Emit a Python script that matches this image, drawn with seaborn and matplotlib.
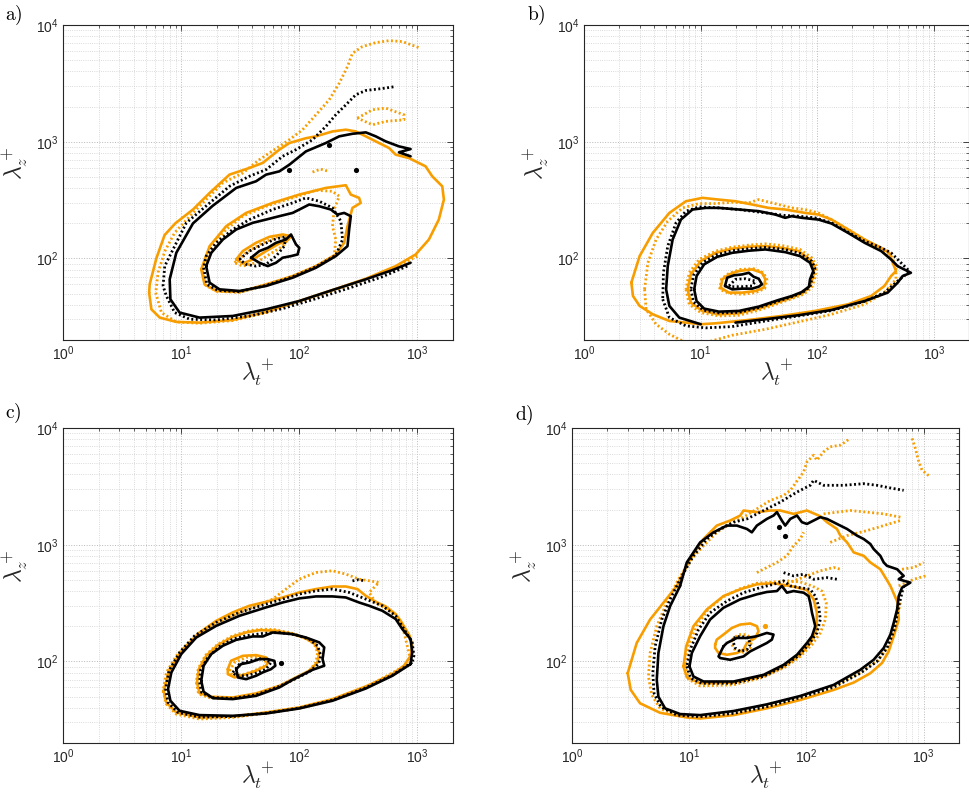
import numpy as np
import matplotlib
matplotlib.use("Agg")
import matplotlib.pyplot as plt
import seaborn as sns

sns.set_style("white")
plt.rcParams["font.family"] = ["Liberation Sans", "DejaVu Sans"]
plt.rcParams["mathtext.fontset"] = "cm"

ORANGE = "#F89D00"
BLACK = "#000000"

# All contour vertices are log10(lambda_t^+), log10(lambda_z^+)
# ks = black solid, kd = black dotted, os = orange solid, od = orange dotted; 1 outer, 2 middle, 3 inner level

# ---------------- panel a ----------------
a_os1_x = [0.729, 0.748, 0.819, 0.959, 1.156, 1.437, 1.719, 2.000, 2.281, 2.563, 2.816, 2.985, 3.097, 3.181, 3.224, 3.210, 3.125, 3.069, 2.928, 2.816, 2.760, 2.647, 2.563, 2.478, 2.394, 2.281, 2.141, 2.056, 1.916, 1.831, 1.690, 1.578, 1.409, 1.241, 1.100, 0.950, 0.860, 0.790, 0.734, 0.729]
a_os1_y = [1.707, 1.564, 1.493, 1.456, 1.450, 1.473, 1.541, 1.635, 1.729, 1.826, 1.934, 2.034, 2.162, 2.333, 2.504, 2.618, 2.704, 2.789, 2.860, 2.889, 2.946, 3.003, 3.046, 3.088, 3.103, 3.088, 3.046, 3.030, 2.989, 2.932, 2.818, 2.775, 2.718, 2.561, 2.419, 2.300, 2.200, 2.000, 1.780, 1.707]
a_ks1_x = [2.942, 2.844, 2.942, 2.844, 2.731, 2.647, 2.563, 2.450, 2.338, 2.225, 2.056, 1.916, 1.831, 1.719, 1.634, 1.466, 1.266, 1.100, 0.959, 0.903, 0.909, 0.987, 1.156, 1.437, 1.719, 2.000, 2.281, 2.563, 2.788, 2.942]
a_ks1_y = [2.875, 2.909, 2.937, 2.960, 3.003, 3.046, 3.080, 3.068, 3.046, 2.989, 2.917, 2.803, 2.746, 2.718, 2.661, 2.604, 2.450, 2.300, 2.048, 1.821, 1.650, 1.536, 1.493, 1.507, 1.564, 1.635, 1.729, 1.821, 1.900, 1.963]
a_kd1_x = [2.914, 2.703, 2.422, 2.141, 1.859, 1.578, 1.297, 1.072, 0.945, 0.875, 0.847, 0.861, 0.917, 1.044, 1.212, 1.409, 1.578, 1.719, 1.859, 1.972, 2.112, 2.225, 2.309, 2.394, 2.478, 2.563, 2.703, 2.816]
a_kd1_y = [1.934, 1.843, 1.746, 1.655, 1.570, 1.507, 1.473, 1.479, 1.536, 1.678, 1.764, 1.934, 2.048, 2.305, 2.450, 2.618, 2.704, 2.761, 2.875, 2.932, 3.017, 3.131, 3.231, 3.316, 3.402, 3.439, 3.456, 3.473]
a_od1_x = [2.999, 2.816, 2.563, 2.281, 2.000, 1.719, 1.437, 1.156, 0.959, 0.833, 0.785, 0.805, 0.861, 0.945, 1.072, 1.156, 1.353, 1.522, 1.662, 1.831, 1.916, 2.028, 2.141, 2.253, 2.338, 2.408, 2.450, 2.534, 2.647, 2.760, 2.872, 3.027]
a_od1_y = [2.020, 1.929, 1.821, 1.724, 1.630, 1.536, 1.467, 1.444, 1.456, 1.536, 1.707, 1.880, 2.060, 2.220, 2.360, 2.447, 2.647, 2.732, 2.846, 2.960, 3.017, 3.103, 3.231, 3.359, 3.501, 3.644, 3.758, 3.815, 3.849, 3.866, 3.858, 3.801]
a_od1b_x = [2.492, 2.619, 2.731, 2.886, 2.886, 2.731, 2.619, 2.492]
a_od1b_y = [3.202, 3.274, 3.288, 3.231, 3.188, 3.174, 3.145, 3.202]
a_os2_x = [1.170, 1.198, 1.297, 1.494, 1.719, 1.944, 2.141, 2.309, 2.380, 2.408, 2.450, 2.520, 2.506, 2.436, 2.394, 2.225, 2.000, 1.775, 1.550, 1.381, 1.241, 1.170]
a_os2_y = [1.906, 1.778, 1.721, 1.712, 1.778, 1.849, 1.934, 2.034, 2.134, 2.276, 2.433, 2.476, 2.519, 2.547, 2.627, 2.604, 2.547, 2.476, 2.390, 2.276, 2.105, 1.906]
a_ks2_x = [1.212, 1.241, 1.325, 1.494, 1.719, 1.944, 2.141, 2.309, 2.408, 2.422, 2.436, 2.380, 2.323, 2.267, 2.169, 2.084, 2.028, 1.944, 1.831, 1.719, 1.606, 1.466, 1.353, 1.255, 1.212]
a_ks2_y = [1.934, 1.792, 1.735, 1.721, 1.764, 1.835, 1.920, 2.020, 2.105, 2.248, 2.362, 2.390, 2.376, 2.419, 2.447, 2.462, 2.433, 2.390, 2.362, 2.333, 2.305, 2.248, 2.162, 2.048, 1.934]
a_kd2_x = [1.190, 1.218, 1.311, 1.494, 1.719, 1.944, 2.141, 2.309, 2.366, 2.352, 2.281, 2.169, 2.056, 1.944, 1.775, 1.578, 1.437, 1.297, 1.212, 1.190]
a_kd2_y = [1.920, 1.778, 1.726, 1.715, 1.769, 1.843, 1.929, 2.026, 2.162, 2.319, 2.433, 2.490, 2.519, 2.476, 2.419, 2.333, 2.248, 2.134, 2.020, 1.920]
a_od2_x = [1.181, 1.209, 1.302, 1.494, 1.719, 1.944, 2.141, 2.295, 2.309, 2.281, 2.295, 2.338, 2.281, 2.141, 1.944, 1.719, 1.522, 1.381, 1.255, 1.181]
a_od2_y = [1.892, 1.769, 1.718, 1.709, 1.772, 1.846, 1.932, 2.020, 2.162, 2.276, 2.419, 2.533, 2.575, 2.584, 2.519, 2.447, 2.362, 2.248, 2.091, 1.892]
a_os3_x = [1.466, 1.522, 1.634, 1.747, 1.859, 1.930, 1.902, 1.831, 1.719, 1.606, 1.522, 1.466]
a_os3_y = [1.991, 2.063, 2.134, 2.185, 2.205, 2.191, 2.157, 2.128, 2.063, 1.991, 1.957, 1.991]
a_ks3_x = [1.592, 1.662, 1.733, 1.803, 1.887, 1.930, 1.972, 2.000, 1.986, 1.930, 1.859, 1.803, 1.733, 1.662, 1.592]
a_ks3_y = [2.006, 2.063, 2.091, 2.134, 2.162, 2.205, 2.120, 2.091, 2.034, 2.020, 2.006, 1.963, 1.934, 1.963, 2.006]
a_kd3_x = [1.494, 1.578, 1.691, 1.803, 1.887, 1.873, 1.803, 1.719, 1.634, 1.550, 1.494]
a_kd3_y = [1.991, 2.063, 2.120, 2.168, 2.185, 2.105, 2.020, 1.949, 1.934, 1.949, 1.991]
a_od3_x = [1.452, 1.550, 1.691, 1.831, 1.916, 1.859, 1.747, 1.634, 1.522, 1.452]
a_od3_y = [1.963, 2.048, 2.134, 2.191, 2.177, 2.105, 2.034, 1.963, 1.934, 1.963]
a_od_bit_x = [2.112, 2.180, 2.253]
a_od_bit_y = [2.740, 2.765, 2.745]
a_dots_x = [1.916, 2.253, 2.478]
a_dots_y = [2.761, 2.974, 2.761]

# ---------------- panel b ----------------
b_os1_x = [0.406, 0.420, 0.477, 0.590, 0.732, 0.874, 1.001, 1.129, 1.413, 1.696, 1.980, 2.264, 2.462, 2.576, 2.633, 2.675, 2.647, 2.618, 2.548, 2.406, 2.264, 2.122, 2.009, 1.895, 1.725, 1.583, 1.441, 1.299, 1.157, 1.016, 0.874, 0.732, 0.590, 0.477, 0.406]
b_os1_y = [1.792, 1.678, 1.593, 1.521, 1.464, 1.450, 1.436, 1.444, 1.473, 1.507, 1.550, 1.607, 1.678, 1.764, 1.849, 1.892, 1.963, 2.048, 2.091, 2.162, 2.248, 2.333, 2.376, 2.390, 2.419, 2.433, 2.462, 2.490, 2.504, 2.519, 2.490, 2.390, 2.219, 2.020, 1.792]
b_ks1_x = [1.299, 1.555, 1.838, 2.122, 2.406, 2.604, 2.689, 2.732, 2.803, 2.689, 2.633, 2.548, 2.406, 2.264, 2.122, 2.009, 1.867, 1.782, 1.725, 1.640, 1.498, 1.328, 1.157, 1.044, 0.930, 0.831, 0.760, 0.718, 0.704, 0.732, 0.817, 1.001]
b_ks1_y = [1.450, 1.479, 1.513, 1.558, 1.635, 1.707, 1.792, 1.849, 1.877, 1.934, 1.991, 2.063, 2.134, 2.219, 2.299, 2.333, 2.348, 2.362, 2.348, 2.376, 2.405, 2.419, 2.433, 2.433, 2.419, 2.333, 2.162, 1.934, 1.735, 1.593, 1.493, 1.436]
b_kd1_x = [0.675, 0.732, 0.874, 1.044, 1.271, 1.555, 1.838, 2.122, 2.406, 2.576, 2.689, 2.760, 2.789, 2.718, 2.633, 2.548, 2.406, 2.264, 2.122, 1.980, 1.838, 1.725, 1.555, 1.328, 1.157, 0.987, 0.874, 0.789, 0.718, 0.681, 0.675]
b_kd1_y = [1.650, 1.493, 1.422, 1.405, 1.416, 1.464, 1.507, 1.553, 1.632, 1.707, 1.806, 1.863, 1.892, 1.963, 2.048, 2.091, 2.148, 2.225, 2.305, 2.348, 2.362, 2.368, 2.390, 2.419, 2.433, 2.442, 2.405, 2.305, 2.105, 1.877, 1.650]
b_od1_x = [0.519, 0.533, 0.618, 0.732, 0.874, 1.044, 1.271, 1.555, 1.838, 2.122, 2.406, 2.576, 2.675, 2.675, 2.633, 2.548, 2.406, 2.264, 2.122, 2.009, 1.895, 1.782, 1.668, 1.555, 1.498, 1.413, 1.271, 1.129, 0.987, 0.845, 0.718, 0.618, 0.548, 0.519]
b_od1_y = [1.735, 1.564, 1.436, 1.350, 1.279, 1.279, 1.342, 1.393, 1.456, 1.521, 1.607, 1.707, 1.821, 1.934, 2.020, 2.077, 2.162, 2.248, 2.333, 2.390, 2.419, 2.433, 2.462, 2.490, 2.504, 2.476, 2.481, 2.470, 2.470, 2.433, 2.319, 2.162, 1.963, 1.735]
b_os2_x = [0.888, 0.916, 1.016, 1.157, 1.328, 1.498, 1.668, 1.782, 1.881, 1.938, 1.966, 1.974, 1.938, 1.838, 1.696, 1.555, 1.413, 1.271, 1.129, 1.001, 0.916, 0.888]
b_os2_y = [1.735, 1.621, 1.550, 1.521, 1.530, 1.570, 1.627, 1.664, 1.707, 1.764, 1.849, 1.934, 1.991, 2.063, 2.091, 2.105, 2.100, 2.083, 2.048, 1.977, 1.863, 1.735]
b_ks2_x = [0.945, 0.965, 1.030, 1.157, 1.328, 1.498, 1.668, 1.782, 1.867, 1.929, 1.938, 1.966, 1.938, 1.852, 1.725, 1.555, 1.413, 1.271, 1.143, 1.030, 0.965, 0.945]
b_ks2_y = [1.735, 1.635, 1.570, 1.544, 1.550, 1.587, 1.644, 1.678, 1.712, 1.758, 1.821, 1.892, 1.963, 2.020, 2.054, 2.077, 2.066, 2.048, 2.014, 1.949, 1.849, 1.735]
b_kd2_x = [0.916, 0.939, 1.021, 1.157, 1.328, 1.498, 1.668, 1.782, 1.872, 1.938, 1.957, 1.980, 1.952, 1.852, 1.725, 1.555, 1.413, 1.271, 1.135, 1.016, 0.939, 0.916]
b_kd2_y = [1.735, 1.627, 1.558, 1.533, 1.538, 1.578, 1.635, 1.672, 1.707, 1.758, 1.835, 1.920, 1.977, 2.043, 2.077, 2.094, 2.083, 2.066, 2.031, 1.963, 1.855, 1.735]
b_od2_x = [0.874, 0.902, 1.001, 1.157, 1.328, 1.498, 1.668, 1.782, 1.881, 1.952, 1.980, 1.994, 1.952, 1.852, 1.696, 1.555, 1.413, 1.271, 1.129, 0.987, 0.902, 0.874]
b_od2_y = [1.735, 1.607, 1.536, 1.507, 1.513, 1.556, 1.615, 1.655, 1.692, 1.749, 1.835, 1.934, 2.006, 2.077, 2.111, 2.125, 2.114, 2.097, 2.063, 1.991, 1.877, 1.735]
b_os3_x = [1.172, 1.186, 1.243, 1.328, 1.441, 1.526, 1.555, 1.540, 1.470, 1.356, 1.243, 1.172]
b_os3_y = [1.749, 1.821, 1.863, 1.892, 1.906, 1.877, 1.821, 1.749, 1.721, 1.707, 1.707, 1.749]
b_ks3_x = [1.209, 1.228, 1.285, 1.356, 1.413, 1.455, 1.498, 1.526, 1.498, 1.441, 1.356, 1.271, 1.209]
b_ks3_y = [1.764, 1.835, 1.855, 1.863, 1.877, 1.843, 1.826, 1.778, 1.758, 1.741, 1.741, 1.735, 1.764]
b_kd3_x = [1.243, 1.299, 1.384, 1.470, 1.441, 1.356, 1.271, 1.243]
b_kd3_y = [1.764, 1.821, 1.826, 1.806, 1.764, 1.758, 1.758, 1.764]
b_od3_x = [1.163, 1.180, 1.243, 1.342, 1.455, 1.540, 1.569, 1.549, 1.470, 1.356, 1.243, 1.163]
b_od3_y = [1.735, 1.826, 1.872, 1.906, 1.912, 1.877, 1.815, 1.741, 1.707, 1.692, 1.701, 1.735]

# ---------------- panel c ----------------
c_os1_x = [0.852, 0.875, 0.959, 1.156, 1.437, 1.719, 2.000, 2.281, 2.563, 2.788, 2.886, 2.942, 2.956, 2.934, 2.900, 2.858, 2.816, 2.731, 2.647, 2.563, 2.492, 2.394, 2.281, 2.141, 2.000, 1.859, 1.719, 1.578, 1.437, 1.297, 1.156, 1.015, 0.903, 0.852]
c_os1_y = [1.748, 1.648, 1.563, 1.520, 1.528, 1.563, 1.606, 1.677, 1.786, 1.891, 1.963, 2.048, 2.134, 2.220, 2.277, 2.348, 2.405, 2.471, 2.511, 2.562, 2.620, 2.642, 2.642, 2.620, 2.591, 2.548, 2.511, 2.477, 2.420, 2.348, 2.248, 2.105, 1.934, 1.748]
c_ks1_x = [2.942, 2.788, 2.563, 2.281, 2.000, 1.719, 1.437, 1.156, 0.987, 0.909, 0.889, 0.917, 1.001, 1.128, 1.297, 1.494, 1.719, 1.859, 2.000, 2.141, 2.281, 2.394, 2.506, 2.591, 2.703, 2.816, 2.872, 2.942, 2.956, 2.942]
c_ks1_y = [1.977, 1.877, 1.768, 1.663, 1.597, 1.554, 1.534, 1.540, 1.577, 1.663, 1.763, 1.905, 2.063, 2.205, 2.305, 2.391, 2.463, 2.505, 2.540, 2.557, 2.557, 2.548, 2.505, 2.477, 2.434, 2.363, 2.277, 2.191, 2.077, 1.977]
c_kd1_x = [2.956, 2.788, 2.563, 2.281, 2.000, 1.719, 1.437, 1.156, 0.973, 0.889, 0.869, 0.897, 0.987, 1.114, 1.297, 1.494, 1.719, 1.859, 2.000, 2.141, 2.281, 2.422, 2.563, 2.703, 2.816, 2.886, 2.956, 2.970, 2.956]
c_kd1_y = [1.992, 1.883, 1.774, 1.668, 1.600, 1.557, 1.528, 1.523, 1.563, 1.648, 1.763, 1.920, 2.077, 2.220, 2.334, 2.420, 2.491, 2.534, 2.577, 2.605, 2.620, 2.591, 2.534, 2.477, 2.391, 2.277, 2.162, 2.048, 1.992]
c_od1_x = [2.942, 2.844, 2.563, 2.281, 2.000, 1.719, 1.437, 1.156, 0.959, 0.875, 0.847, 0.875, 0.959, 1.100, 1.269, 1.437, 1.606, 1.775, 1.887, 2.000, 2.141, 2.281, 2.394, 2.506, 2.591, 2.675, 2.591, 2.647, 2.788, 2.872, 2.900, 2.928, 2.942]
c_od1_y = [1.992, 1.934, 1.777, 1.671, 1.600, 1.557, 1.520, 1.506, 1.548, 1.634, 1.748, 1.906, 2.048, 2.191, 2.305, 2.391, 2.463, 2.534, 2.620, 2.705, 2.762, 2.777, 2.748, 2.705, 2.691, 2.677, 2.591, 2.505, 2.420, 2.305, 2.191, 2.077, 1.992]
c_os2_x = [1.134, 1.156, 1.255, 1.437, 1.634, 1.831, 1.972, 2.084, 2.155, 2.169, 2.135, 2.056, 1.944, 1.803, 1.662, 1.550, 1.437, 1.311, 1.212, 1.150, 1.134]
c_os2_y = [1.820, 1.728, 1.697, 1.691, 1.726, 1.791, 1.863, 1.920, 1.992, 2.077, 2.148, 2.197, 2.234, 2.263, 2.268, 2.248, 2.211, 2.140, 2.048, 1.934, 1.820]
c_ks2_x = [1.170, 1.190, 1.269, 1.437, 1.634, 1.831, 1.944, 2.112, 2.211, 2.197, 2.211, 2.169, 2.056, 1.944, 1.831, 1.775, 1.691, 1.606, 1.466, 1.353, 1.255, 1.190, 1.170]
c_ks2_y = [1.834, 1.740, 1.685, 1.677, 1.705, 1.777, 1.843, 1.928, 1.963, 2.020, 2.120, 2.163, 2.205, 2.234, 2.243, 2.248, 2.214, 2.214, 2.185, 2.134, 2.063, 1.963, 1.834]
c_kd2_x = [1.156, 1.173, 1.263, 1.437, 1.634, 1.831, 1.958, 2.084, 2.163, 2.183, 2.155, 2.084, 1.972, 1.831, 1.691, 1.550, 1.437, 1.325, 1.226, 1.165, 1.156]
c_kd2_y = [1.820, 1.734, 1.691, 1.683, 1.714, 1.786, 1.848, 1.911, 1.977, 2.048, 2.134, 2.191, 2.228, 2.248, 2.240, 2.220, 2.191, 2.128, 2.034, 1.928, 1.820]
c_od2_x = [1.128, 1.148, 1.246, 1.437, 1.634, 1.831, 1.972, 2.084, 2.141, 2.155, 2.127, 2.056, 1.944, 1.803, 1.691, 1.578, 1.437, 1.311, 1.207, 1.145, 1.128]
c_od2_y = [1.820, 1.720, 1.688, 1.683, 1.717, 1.786, 1.854, 1.920, 1.992, 2.077, 2.148, 2.197, 2.240, 2.271, 2.277, 2.263, 2.220, 2.148, 2.054, 1.940, 1.820]
c_os3_x = [1.395, 1.423, 1.522, 1.634, 1.719, 1.741, 1.719, 1.634, 1.550, 1.452, 1.395, 1.395]
c_os3_y = [1.934, 2.006, 2.048, 2.054, 2.034, 2.006, 1.963, 1.920, 1.891, 1.863, 1.891, 1.934]
c_ks3_x = [1.466, 1.508, 1.578, 1.662, 1.733, 1.789, 1.797, 1.761, 1.691, 1.634, 1.550, 1.480, 1.466]
c_ks3_y = [1.934, 1.977, 1.991, 2.020, 2.020, 2.005, 1.963, 1.934, 1.906, 1.877, 1.848, 1.863, 1.934]
c_kd3_x = [1.437, 1.494, 1.578, 1.691, 1.761, 1.719, 1.634, 1.550, 1.466, 1.437]
c_kd3_y = [1.906, 1.977, 2.005, 2.025, 1.991, 1.934, 1.900, 1.877, 1.877, 1.906]
c_od3_x = [1.409, 1.452, 1.550, 1.648, 1.719, 1.705, 1.620, 1.536, 1.437, 1.409]
c_od3_y = [1.920, 1.991, 2.034, 2.042, 2.020, 1.963, 1.920, 1.891, 1.877, 1.920]
c_kd_bit_x = [2.450, 2.500, 2.560]
c_kd_bit_y = [2.690, 2.700, 2.690]
c_dots_x = [1.845]
c_dots_y = [1.990]

# ---------------- panel d ----------------
d_os1_x = [0.475, 0.501, 0.581, 0.751, 0.979, 1.093, 1.378, 1.662, 1.947, 2.232, 2.403, 2.545, 2.644, 2.701, 2.744, 2.787, 2.778, 2.716, 2.630, 2.545, 2.488, 2.403, 2.346, 2.289, 2.260, 2.175, 2.118, 2.004, 1.890, 1.776, 1.691, 1.577, 1.463, 1.435, 1.349, 1.235, 1.122, 1.008, 0.894, 0.780, 0.666, 0.552, 0.475]
d_os1_y = [1.899, 1.756, 1.641, 1.560, 1.520, 1.511, 1.540, 1.598, 1.670, 1.756, 1.819, 1.899, 1.986, 2.086, 2.216, 2.359, 2.503, 2.647, 2.790, 2.848, 2.905, 2.934, 3.020, 3.078, 3.135, 3.193, 3.244, 3.293, 3.264, 3.293, 3.293, 3.279, 3.293, 3.250, 3.207, 3.164, 3.049, 2.876, 2.647, 2.503, 2.359, 2.158, 1.899]
d_ks1_x = [0.922, 0.979, 1.093, 1.207, 1.321, 1.406, 1.492, 1.534, 1.577, 1.662, 1.719, 1.748, 1.790, 1.819, 1.862, 1.919, 1.961, 2.004, 2.061, 2.118, 2.175, 2.260, 2.346, 2.431, 2.488, 2.545, 2.573, 2.630, 2.659, 2.687, 2.773, 2.829, 2.787, 2.886, 2.815, 2.787, 2.773, 2.744, 2.716, 2.659, 2.573, 2.459, 2.232, 1.947, 1.662, 1.378, 1.093, 0.922, 0.794, 0.737, 0.723, 0.737, 0.780, 0.837, 0.922]
d_ks1_y = [2.647, 2.848, 3.020, 3.106, 3.164, 3.164, 3.135, 3.106, 3.164, 3.221, 3.250, 3.279, 3.207, 3.164, 3.221, 3.250, 3.193, 3.178, 3.207, 3.236, 3.221, 3.178, 3.135, 3.078, 3.049, 3.006, 2.963, 2.905, 2.848, 2.819, 2.790, 2.733, 2.704, 2.675, 2.632, 2.560, 2.445, 2.330, 2.230, 2.115, 2.014, 1.928, 1.799, 1.704, 1.632, 1.575, 1.540, 1.549, 1.598, 1.698, 1.842, 2.072, 2.302, 2.474, 2.647]
d_kd1_x = [2.829, 2.787, 2.750, 2.687, 2.602, 2.459, 2.232, 1.947, 1.662, 1.378, 1.093, 0.894, 0.757, 0.700, 0.689, 0.709, 0.766, 0.837, 0.922, 1.036, 1.150, 1.264, 1.378, 1.492, 1.577, 1.662, 1.776, 1.919, 2.032, 2.061, 2.146, 2.317, 2.488, 2.602, 2.716, 2.829]
d_kd1_y = [2.647, 2.474, 2.273, 2.115, 2.000, 1.899, 1.779, 1.690, 1.612, 1.555, 1.526, 1.540, 1.612, 1.727, 1.899, 2.129, 2.359, 2.532, 2.704, 2.905, 3.049, 3.135, 3.193, 3.221, 3.264, 3.307, 3.365, 3.451, 3.509, 3.552, 3.509, 3.509, 3.523, 3.509, 3.486, 3.466]
d_od1_x = [2.801, 2.758, 2.701, 2.602, 2.459, 2.232, 1.947, 1.662, 1.378, 1.093, 0.894, 0.751, 0.680, 0.652, 0.666, 0.723, 0.808, 0.908, 1.008, 1.122, 1.235, 1.349, 1.463, 1.577, 1.691, 1.805, 1.862, 1.976, 2.004, 2.061, 2.089, 2.146, 2.203, 2.289, 2.374]
d_od1_y = [2.503, 2.302, 2.129, 2.000, 1.905, 1.790, 1.698, 1.618, 1.560, 1.526, 1.534, 1.598, 1.713, 1.871, 2.072, 2.302, 2.503, 2.704, 2.862, 2.991, 3.106, 3.178, 3.236, 3.307, 3.379, 3.422, 3.466, 3.624, 3.710, 3.767, 3.724, 3.796, 3.839, 3.853, 3.911]
d_od_p1_x = [2.901, 2.929, 2.958, 2.986, 3.057]
d_od_p1_y = [3.911, 3.825, 3.710, 3.638, 3.580]
d_od_p2_x = [2.146, 2.260, 2.374, 2.516, 2.659, 2.801]
d_od_p2_y = [3.264, 3.279, 3.293, 3.279, 3.264, 3.236]
d_od_p3_x = [2.203, 2.346, 2.516, 2.659, 2.801]
d_od_p3_y = [3.020, 3.078, 3.121, 3.164, 3.207]
d_od_p4_x = [2.815, 2.915, 3.000]
d_od_p4_y = [2.790, 2.805, 2.848]
d_od_p5_x = [2.787, 2.915, 3.015]
d_od_p5_y = [2.647, 2.704, 2.733]
d_od_n1_x = [1.577, 1.662, 1.748, 1.833, 1.890, 1.947, 1.976]
d_od_n1_y = [2.761, 2.805, 2.848, 2.905, 2.991, 3.049, 3.106]
d_od_n2_x = [1.805, 1.890, 2.004, 2.118, 2.232, 2.289]
d_od_n2_y = [2.647, 2.690, 2.733, 2.776, 2.805, 2.790]
d_kd_n1_x = [1.805, 1.890, 1.976, 2.061, 2.175, 2.260]
d_kd_n1_y = [2.761, 2.733, 2.747, 2.704, 2.718, 2.704]
d_os2_x = [0.951, 0.979, 1.093, 1.378, 1.634, 1.805, 1.947, 2.032, 2.084, 2.089, 2.061, 2.004, 1.890, 1.719, 1.577, 1.435, 1.292, 1.150, 1.036, 0.974, 0.951]
d_os2_y = [1.957, 1.865, 1.813, 1.819, 1.876, 1.957, 2.057, 2.158, 2.273, 2.417, 2.532, 2.612, 2.641, 2.670, 2.661, 2.618, 2.560, 2.445, 2.302, 2.129, 1.957]
d_ks2_x = [1.002, 1.036, 1.122, 1.378, 1.634, 1.805, 1.919, 2.004, 2.047, 2.075, 2.047, 2.032, 2.018, 1.976, 1.890, 1.833, 1.790, 1.748, 1.662, 1.577, 1.435, 1.292, 1.178, 1.093, 1.022, 1.002]
d_ks2_y = [1.957, 1.871, 1.828, 1.828, 1.885, 1.971, 2.057, 2.158, 2.216, 2.302, 2.417, 2.503, 2.560, 2.589, 2.603, 2.589, 2.647, 2.603, 2.595, 2.575, 2.532, 2.460, 2.359, 2.216, 2.072, 1.957]
d_kd2_x = [0.979, 1.013, 1.107, 1.378, 1.634, 1.805, 1.933, 2.018, 2.089, 2.118, 2.104, 2.075, 2.032, 1.947, 1.862, 1.805, 1.719, 1.605, 1.463, 1.321, 1.178, 1.079, 1.008, 0.979]
d_kd2_y = [1.957, 1.856, 1.813, 1.813, 1.871, 1.957, 2.049, 2.144, 2.244, 2.359, 2.474, 2.560, 2.618, 2.632, 2.647, 2.690, 2.661, 2.632, 2.589, 2.517, 2.417, 2.273, 2.101, 1.957]
d_od2_x = [0.965, 0.993, 1.093, 1.378, 1.634, 1.819, 1.947, 2.047, 2.118, 2.161, 2.169, 2.132, 2.047, 1.947, 1.833, 1.719, 1.577, 1.435, 1.292, 1.164, 1.065, 0.993, 0.965]
d_od2_y = [1.971, 1.848, 1.790, 1.799, 1.865, 1.951, 2.043, 2.144, 2.244, 2.359, 2.503, 2.603, 2.647, 2.681, 2.690, 2.681, 2.670, 2.624, 2.555, 2.451, 2.302, 2.144, 1.971]
d_os3_x = [1.221, 1.235, 1.292, 1.364, 1.435, 1.520, 1.577, 1.591, 1.563, 1.492, 1.463, 1.406, 1.321, 1.250, 1.221, 1.221]
d_os3_y = [2.144, 2.187, 2.230, 2.287, 2.316, 2.325, 2.302, 2.259, 2.201, 2.158, 2.101, 2.072, 2.057, 2.072, 2.115, 2.144]
d_ks3_x = [1.292, 1.321, 1.406, 1.492, 1.577, 1.662, 1.719, 1.705, 1.662, 1.577, 1.520, 1.463, 1.349, 1.264, 1.250, 1.292]
d_ks3_y = [2.129, 2.158, 2.201, 2.201, 2.216, 2.244, 2.230, 2.187, 2.158, 2.115, 2.086, 2.043, 2.014, 2.029, 2.043, 2.129]
d_kd3_x = [1.378, 1.435, 1.506, 1.520, 1.492, 1.435, 1.392, 1.378, 1.378]
d_kd3_y = [2.201, 2.216, 2.201, 2.144, 2.101, 2.086, 2.115, 2.158, 2.201]
d_od3_x = [1.364, 1.420, 1.492, 1.534, 1.520, 1.463, 1.392, 1.364, 1.364]
d_od3_y = [2.187, 2.230, 2.230, 2.187, 2.115, 2.078, 2.095, 2.144, 2.187]
d_dots_x = [1.762, 1.819]
d_dots_y = [3.149, 3.078]
d_odot_x = [1.648]
d_odot_y = [2.302]

panel_labels = ["a)", "b)", "c)", "d)"]
xlabel_text = r"$\lambda_t^+$"
ylabel_text = r"$\lambda_z^+$"

# ---------------- drawing ----------------
fig = plt.figure(figsize=(9.7, 8), dpi=100)
axes_pos = [
    [63 / 970, 460 / 800, 390 / 970, 315 / 800],
    [584 / 970, 460 / 800, 385 / 970, 315 / 800],
    [63 / 970, 57 / 800, 390 / 970, 315 / 800],
    [572 / 970, 57 / 800, 387 / 970, 315 / 800],
]
label_pos = [(5 / 970, 785 / 800), (527 / 970, 785 / 800), (5 / 970, 387 / 800), (515 / 970, 385 / 800)]

SOLID_LW = 1.9
DOT_LW = 2.0
DOT_STYLE = (0, (0.7, 0.9))


def draw(ax, lx, ly, color, dotted):
    xs = np.power(10.0, np.asarray(lx, dtype=float))
    ys = np.power(10.0, np.asarray(ly, dtype=float))
    sns.lineplot(x=xs, y=ys, sort=False, estimator=None, ax=ax, color=color,
                 linewidth=DOT_LW if dotted else SOLID_LW,
                 linestyle=DOT_STYLE if dotted else "-", legend=False)


def dots(ax, lx, ly, color):
    sns.scatterplot(x=np.power(10.0, np.asarray(lx)), y=np.power(10.0, np.asarray(ly)),
                    ax=ax, color=color, s=14, linewidth=0, legend=False)


panels = [
    [(a_os1_x, a_os1_y, ORANGE, False), (a_od1_x, a_od1_y, ORANGE, True), (a_od1b_x, a_od1b_y, ORANGE, True),
     (a_kd1_x, a_kd1_y, BLACK, True), (a_ks1_x, a_ks1_y, BLACK, False),
     (a_os2_x, a_os2_y, ORANGE, False), (a_od2_x, a_od2_y, ORANGE, True),
     (a_kd2_x, a_kd2_y, BLACK, True), (a_ks2_x, a_ks2_y, BLACK, False),
     (a_os3_x, a_os3_y, ORANGE, False), (a_od3_x, a_od3_y, ORANGE, True),
     (a_kd3_x, a_kd3_y, BLACK, True), (a_ks3_x, a_ks3_y, BLACK, False),
     (a_od_bit_x, a_od_bit_y, ORANGE, True)],
    [(b_os1_x, b_os1_y, ORANGE, False), (b_od1_x, b_od1_y, ORANGE, True),
     (b_kd1_x, b_kd1_y, BLACK, True), (b_ks1_x, b_ks1_y, BLACK, False),
     (b_os2_x, b_os2_y, ORANGE, False), (b_od2_x, b_od2_y, ORANGE, True),
     (b_kd2_x, b_kd2_y, BLACK, True), (b_ks2_x, b_ks2_y, BLACK, False),
     (b_os3_x, b_os3_y, ORANGE, False), (b_od3_x, b_od3_y, ORANGE, True),
     (b_kd3_x, b_kd3_y, BLACK, True), (b_ks3_x, b_ks3_y, BLACK, False)],
    [(c_os1_x, c_os1_y, ORANGE, False), (c_od1_x, c_od1_y, ORANGE, True),
     (c_kd1_x, c_kd1_y, BLACK, True), (c_ks1_x, c_ks1_y, BLACK, False),
     (c_os2_x, c_os2_y, ORANGE, False), (c_od2_x, c_od2_y, ORANGE, True),
     (c_kd2_x, c_kd2_y, BLACK, True), (c_ks2_x, c_ks2_y, BLACK, False),
     (c_os3_x, c_os3_y, ORANGE, False), (c_od3_x, c_od3_y, ORANGE, True),
     (c_kd3_x, c_kd3_y, BLACK, True), (c_ks3_x, c_ks3_y, BLACK, False),
     (c_kd_bit_x, c_kd_bit_y, BLACK, True)],
    [(d_os1_x, d_os1_y, ORANGE, False), (d_od1_x, d_od1_y, ORANGE, True),
     (d_od_p1_x, d_od_p1_y, ORANGE, True), (d_od_p2_x, d_od_p2_y, ORANGE, True),
     (d_od_p3_x, d_od_p3_y, ORANGE, True), (d_od_p4_x, d_od_p4_y, ORANGE, True),
     (d_od_p5_x, d_od_p5_y, ORANGE, True), (d_od_n1_x, d_od_n1_y, ORANGE, True),
     (d_od_n2_x, d_od_n2_y, ORANGE, True), (d_kd_n1_x, d_kd_n1_y, BLACK, True),
     (d_kd1_x, d_kd1_y, BLACK, True), (d_ks1_x, d_ks1_y, BLACK, False),
     (d_os2_x, d_os2_y, ORANGE, False), (d_od2_x, d_od2_y, ORANGE, True),
     (d_kd2_x, d_kd2_y, BLACK, True), (d_ks2_x, d_ks2_y, BLACK, False),
     (d_os3_x, d_os3_y, ORANGE, False), (d_od3_x, d_od3_y, ORANGE, True),
     (d_kd3_x, d_kd3_y, BLACK, True), (d_ks3_x, d_ks3_y, BLACK, False)],
]
panel_dots = [[(a_dots_x, a_dots_y, BLACK)], [], [(c_dots_x, c_dots_y, BLACK)],
              [(d_dots_x, d_dots_y, BLACK), (d_odot_x, d_odot_y, ORANGE)]]

for i, pos in enumerate(axes_pos):
    ax = fig.add_axes(pos)
    ax.set_xscale("log")
    ax.set_yscale("log")
    for lx, ly, col, dotted in panels[i]:
        draw(ax, lx, ly, col, dotted)
    for lx, ly, col in panel_dots[i]:
        dots(ax, lx, ly, col)
    ax.set_xlim(1, 2000)
    ax.set_ylim(20, 1e4)
    ax.grid(True, which="major", linestyle=":", color="#b8b8b8", linewidth=0.7)
    ax.grid(True, which="minor", linestyle=":", color="#cfcfcf", linewidth=0.6)
    ax.set_axisbelow(True)
    ax.tick_params(which="both", direction="in", top=True, right=True,
                   labelsize=10, labelcolor="#262626", color="#262626")
    ax.tick_params(which="major", length=4, width=0.6)
    ax.tick_params(which="minor", length=2, width=0.5)
    for sp in ax.spines.values():
        sp.set_color("#262626")
        sp.set_linewidth(0.8)
    ax.set_xlabel(xlabel_text, fontsize=17, color="#262626")
    ax.set_ylabel(ylabel_text, fontsize=17, color="#262626")
    ax.xaxis.set_label_coords(0.5, -0.055)
    ax.xaxis.label.set_va("top")
    ax.yaxis.set_label_coords(-0.085, 0.56)
    fig.text(label_pos[i][0], label_pos[i][1], r"$\mathrm{" + panel_labels[i] + "}$",
             fontsize=14, ha="left", va="center", color="black")

fig.savefig("out.png", dpi=100)
